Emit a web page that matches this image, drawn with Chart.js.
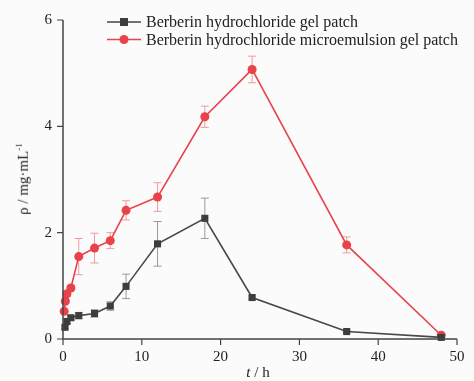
<!DOCTYPE html>
<html>
<head>
<meta charset="utf-8">
<script src="https://cdn.jsdelivr.net/npm/chart.js@4/dist/chart.umd.min.js"></script>
<style>
  html, body { margin: 0; padding: 0; background: #fbfbfb; }
  #wrap { position: relative; width: 474px; height: 381px; }
  #c { position: absolute; left: 0; top: 0; }
  .leg { position: absolute; font-family: "Liberation Serif", "DejaVu Serif", serif; font-size: 16px; color: #222; white-space: nowrap; line-height: 18px; }
  .mk { position: absolute; }
  #xt { position: absolute; left: 0; width: 474px; text-align: center; top: 364px; font-family: "Liberation Serif", serif; font-size: 15px; color: #222; }
  #yt { position: absolute; font-family: "Liberation Serif", serif; font-size: 15px; color: #222; transform: rotate(-90deg); transform-origin: center center; white-space: nowrap; }
</style>
</head>
<body>
<div id="wrap">
  <canvas id="c" width="474" height="381"></canvas>
  <svg class="mk" style="left:105px;top:14px" width="38" height="34">
    <line x1="2" y1="8" x2="36" y2="8" stroke="#444" stroke-width="1.5"/>
    <rect x="15" y="4" width="8" height="8" fill="#3d3d3d"/>
    <line x1="2" y1="25.5" x2="36" y2="25.5" stroke="#e8434b" stroke-width="1.5"/>
    <circle cx="19" cy="25.5" r="4.5" fill="#e8434b"/>
  </svg>
  <div class="leg" style="left:146px;top:13px">Berberin hydrochloride gel patch</div>
  <div class="leg" style="left:146px;top:30.5px">Berberin hydrochloride microemulsion gel patch</div>
  <div id="xt" style="left:21px"><i>t</i> / h</div>
  <div id="yt" style="left:-13px;top:170px">ρ / mg·mL<sup style="font-size:9px">-1</sup></div>
</div>
<script>
// ---- data ----
const grayTimes  = [0.25, 0.5, 1, 2, 4, 6, 8, 12, 18, 24, 36, 48];
const grayValues = [0.22, 0.33, 0.40, 0.44, 0.48, 0.62, 0.99, 1.79, 2.27, 0.78, 0.14, 0.03];
const grayErrors = [0.03, 0.04, 0.04, 0.06, 0.07, 0.08, 0.23, 0.42, 0.38, 0.03, 0.02, 0.01];

const redTimes  = [0.15, 0.3, 0.5, 1, 2, 4, 6, 8, 12, 18, 24, 36, 48];
const redValues = [0.52, 0.71, 0.85, 0.96, 1.55, 1.71, 1.85, 2.42, 2.67, 4.18, 5.07, 1.77, 0.07];
const redErrors = [0.03, 0.04, 0.05, 0.05, 0.34, 0.28, 0.15, 0.18, 0.27, 0.20, 0.25, 0.15, 0.02];

const xTicks = [0, 10, 20, 30, 40, 50];
const yTicks = [0, 2, 4, 6];

const seriesLabels = ["Berberin hydrochloride gel patch", "Berberin hydrochloride microemulsion gel patch"];

Chart.defaults.font.family = "'Liberation Serif', 'Times New Roman', serif";
const tickFont = { family: "'Liberation Serif', 'Times New Roman', serif", size: 15 };

function pts(ts, vs) { return ts.map((t, i) => ({ x: t, y: vs[i] })); }

const errorBarPlugin = {
  id: 'errbars',
  beforeDatasetsDraw(chart) {
    const ctx = chart.ctx;
    const xs = chart.scales.x, ys = chart.scales.y;
    const sets = [
      { t: grayTimes, v: grayValues, e: grayErrors, c: '#9a9a9a' },
      { t: redTimes, v: redValues, e: redErrors, c: '#f19a9e' }
    ];
    ctx.save();
    ctx.lineWidth = 1;
    sets.forEach(s => {
      ctx.strokeStyle = s.c;
      s.t.forEach((t, i) => {
        const px = xs.getPixelForValue(t);
        const top = ys.getPixelForValue(s.v[i] + s.e[i]);
        const bot = ys.getPixelForValue(s.v[i] - s.e[i]);
        ctx.beginPath();
        ctx.moveTo(px, top); ctx.lineTo(px, bot);
        ctx.moveTo(px - 4, top); ctx.lineTo(px + 4, top);
        ctx.moveTo(px - 4, bot); ctx.lineTo(px + 4, bot);
        ctx.stroke();
      });
    });
    ctx.restore();
  }
};

const axisLinesPlugin = {
  id: 'axlines',
  afterDraw(chart) {
    const ctx = chart.ctx, a = chart.chartArea;
    const xs = chart.scales.x, ys = chart.scales.y;
    ctx.save();
    ctx.strokeStyle = '#444';
    ctx.lineWidth = 1.5;
    ctx.beginPath();
    ctx.moveTo(a.left, a.top); ctx.lineTo(a.left, a.bottom); ctx.lineTo(a.right, a.bottom);
    ctx.stroke();
    ctx.lineWidth = 1.2;
    ctx.beginPath();
    xTicks.forEach(t => { const p = xs.getPixelForValue(t); ctx.moveTo(p, a.bottom); ctx.lineTo(p, a.bottom + 6); });
    yTicks.forEach(t => { const p = ys.getPixelForValue(t); ctx.moveTo(a.left, p); ctx.lineTo(a.left - 6, p); });
    ctx.stroke();
    ctx.restore();
  }
};

function draw() {
  new Chart(document.getElementById('c'), {
    type: 'line',
    data: {
      datasets: [
        {
          label: seriesLabels[0],
          data: pts(grayTimes, grayValues),
          borderColor: '#484848', backgroundColor: '#3d3d3d',
          borderWidth: 1.6, pointStyle: 'rect', pointRadius: 5, pointBorderWidth: 0,
          tension: 0
        },
        {
          label: seriesLabels[1],
          data: pts(redTimes, redValues),
          borderColor: '#e8434b', backgroundColor: '#e8434b',
          borderWidth: 1.6, pointStyle: 'circle', pointRadius: 4.5, pointBorderWidth: 0,
          tension: 0
        }
      ]
    },
    options: {
      responsive: false,
      animation: false,
      clip: false,
      layout: { padding: { left: 0, right: 17, top: 20, bottom: 0 } },
      plugins: { legend: { display: false }, tooltip: { enabled: false } },
      scales: {
        x: {
          type: 'linear', min: 0, max: 50,
          afterBuildTicks: s => { s.ticks = xTicks.map(v => ({ value: v })); },
          grid: { display: false, drawTicks: false },
          border: { display: false },
          ticks: { color: '#222', padding: 9, font: tickFont, maxRotation: 0 },
          afterFit: s => { s.height = 42; }
        },
        y: {
          min: 0, max: 6,
          afterBuildTicks: s => { s.ticks = yTicks.map(v => ({ value: v })); },
          grid: { display: false, drawTicks: false },
          border: { display: false },
          ticks: { color: '#222', padding: 11, font: tickFont },
          afterFit: s => { s.width = 63; }
        }
      }
    },
    plugins: [errorBarPlugin, axisLinesPlugin]
  });
}
if (document.fonts && document.fonts.load) {
  document.fonts.load("15px 'Liberation Serif'").then(draw, draw);
} else { draw(); }
</script>
</body>
</html>
